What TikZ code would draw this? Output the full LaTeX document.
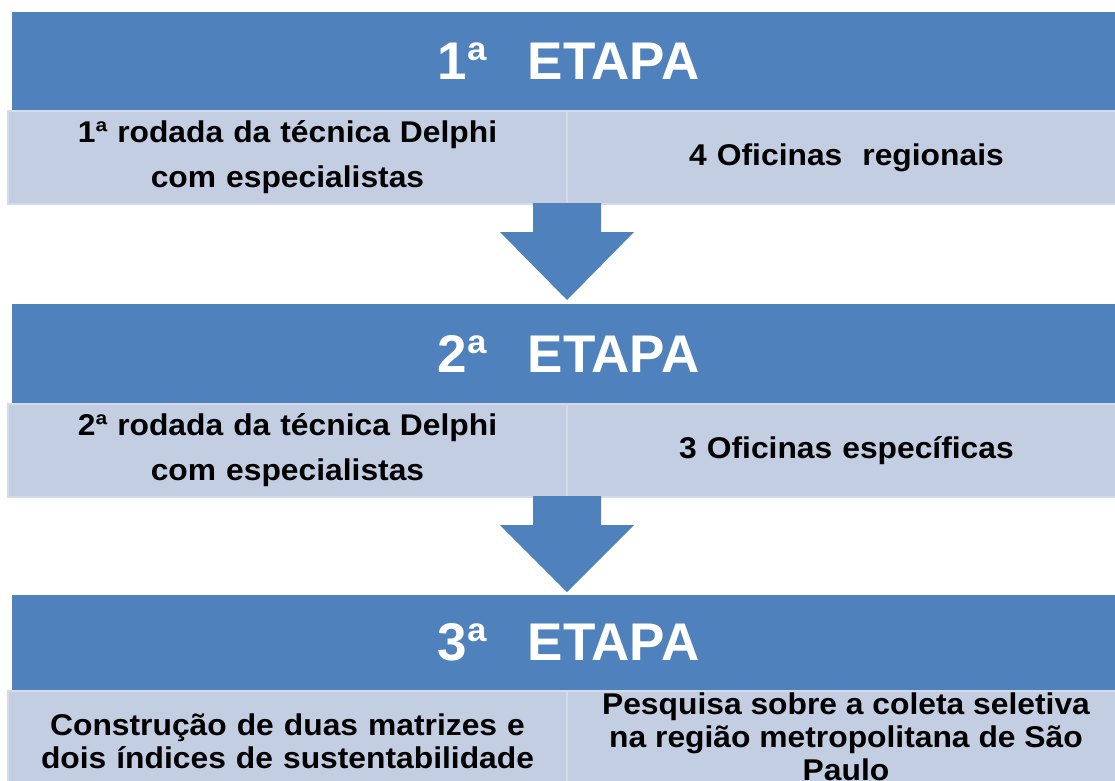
\documentclass[tikz,border=0pt]{standalone}
\usepackage{fontspec}
\setmainfont{Liberation Sans}
\newfontfamily\cellfont{Liberation Sans}[FakeStretch=1.06]
\definecolor{bandblue}{HTML}{4F81BD}
\definecolor{cellfill}{HTML}{C3CEE2}
\definecolor{cellline}{HTML}{D3DBEA}
\tikzset{
  band/.style={fill=bandblue, draw=none, rectangle, inner sep=0pt, anchor=north west,
    minimum width=1113pt, font=\fontsize{53}{60}\selectfont\bfseries, text=white},
  cell/.style={fill=cellfill, draw=cellline, line width=2pt, rectangle, inner sep=0pt,
    anchor=north west, minimum width=559pt, align=center, text width=545pt,
    font=\cellfont\fontsize{30}{45}\selectfont\bfseries},
  celltight/.style={font=\cellfont\fontsize{30}{33}\selectfont\bfseries},
  blockarrow/.style={fill=bandblue, draw=none}
}
\begin{document}
\begin{tikzpicture}[x=1pt,y=-1pt]
\useasboundingbox (0,0) rectangle (1115,780);
\fill[white] (0,0) rectangle (1115,780);
% stage 1
\node[band, minimum height=98pt] (b1) at (12,12) {1ª\hspace{41pt}ETAPA};
\node[cell, minimum height=93pt] (c1l) at (7,110) {1ª rodada da técnica Delphi\\com especialistas};
\node[cell, minimum height=93pt] (c1r) at (566,110) {4 Oficinas\ \ regionais};
% arrow 1
\fill[blockarrow] (533,203) -- (601,203) -- (601,232) -- (634,232) -- (567,300) -- (500,232) -- (533,232) -- cycle;
% stage 2
\node[band, minimum height=99pt] (b2) at (12,304) {2ª\hspace{41pt}ETAPA};
\node[cell, minimum height=93pt] (c2l) at (7,403) {2ª rodada da técnica Delphi\\com especialistas};
\node[cell, minimum height=93pt] (c2r) at (566,403) {3 Oficinas específicas};
% arrow 2
\fill[blockarrow] (533,496) -- (601,496) -- (601,525) -- (634,525) -- (567,592) -- (500,525) -- (533,525) -- cycle;
% stage 3
\node[band, minimum height=95pt] (b3) at (12,595) {3ª\hspace{41pt}ETAPA};
\node[cell, celltight, minimum height=100pt] (c3l) at (7,690) {Construção de duas matrizes e\\dois índices de sustentabilidade};
\node[cell, minimum height=100pt] (c3r) at (566,690) {};
\node[celltight, align=center, anchor=north] (c3rt) at (846,689) {Pesquisa sobre a coleta seletiva\\na região metropolitana de São\\Paulo};
\end{tikzpicture}
\end{document}
